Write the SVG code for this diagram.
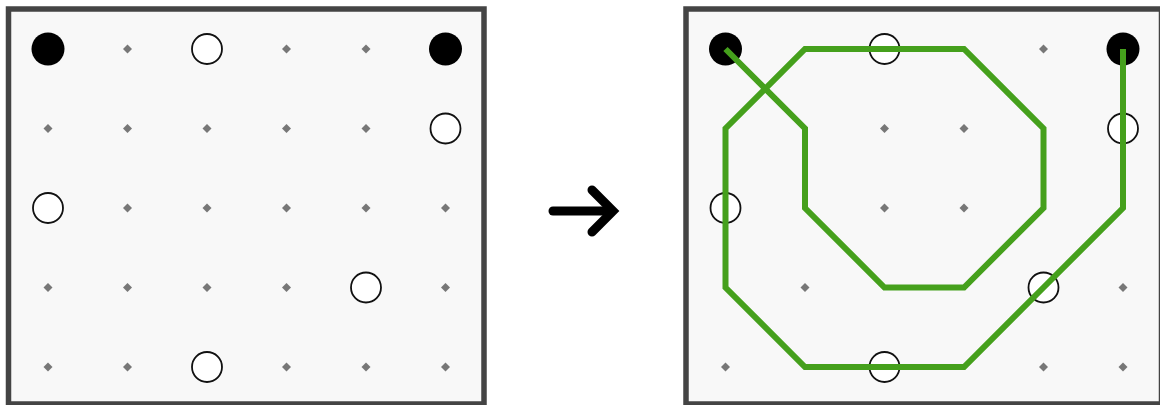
<svg xmlns="http://www.w3.org/2000/svg" width="1160" height="405" viewBox="0 0 1160 405">
<defs>
<style>
.panel{fill:#f8f8f8;stroke:#444;stroke-width:5.5}
.dot{fill:#777}
.open{fill:#fff;stroke:#111;stroke-width:1.8}
.solid{fill:#000}
.path{fill:none;stroke:#45a01c;stroke-width:6;stroke-linejoin:miter;stroke-linecap:butt}
.arrow{fill:none;stroke:#000;stroke-width:9;stroke-linecap:round;stroke-linejoin:miter}
</style>
<polygon id="d" class="dot" points="0,-4.5 4.5,0 0,4.5 -4.5,0"/>
</defs>
<g id="left-panel">
<rect class="panel" x="8.5" y="9" width="475.5" height="395"/>
<use href="#d" x="127.5" y="49"/><use href="#d" x="286.5" y="49"/><use href="#d" x="366" y="49"/>
<use href="#d" x="48" y="128.5"/><use href="#d" x="127.5" y="128.5"/><use href="#d" x="207" y="128.5"/><use href="#d" x="286.5" y="128.5"/><use href="#d" x="366" y="128.5"/>
<use href="#d" x="127.5" y="208"/><use href="#d" x="207" y="208"/><use href="#d" x="286.5" y="208"/><use href="#d" x="366" y="208"/><use href="#d" x="445.5" y="208"/>
<use href="#d" x="48" y="287.5"/><use href="#d" x="127.5" y="287.5"/><use href="#d" x="207" y="287.5"/><use href="#d" x="286.5" y="287.5"/><use href="#d" x="445.5" y="287.5"/>
<use href="#d" x="48" y="367"/><use href="#d" x="127.5" y="367"/><use href="#d" x="286.5" y="367"/><use href="#d" x="366" y="367"/><use href="#d" x="445.5" y="367"/>
<circle class="solid" cx="48" cy="49" r="16.5"/>
<circle class="solid" cx="445.5" cy="49" r="16.5"/>
<circle class="open" cx="207" cy="49" r="15"/>
<circle class="open" cx="445.5" cy="128.5" r="15"/>
<circle class="open" cx="48" cy="208" r="15"/>
<circle class="open" cx="366" cy="287.5" r="15"/>
<circle class="open" cx="207" cy="367" r="15"/>
</g>
<g id="arrow">
<line class="arrow" x1="553" y1="211" x2="611" y2="211"/>
<polyline class="arrow" points="592,190 613,211 592,232"/>
</g>
<g id="right-panel">
<rect class="panel" x="686" y="9" width="475.5" height="395"/>
<use href="#d" x="1043.5" y="49"/>
<use href="#d" x="884.5" y="128.5"/><use href="#d" x="964" y="128.5"/>
<use href="#d" x="884.5" y="208"/><use href="#d" x="964" y="208"/>
<use href="#d" x="805" y="287.5"/><use href="#d" x="1123" y="287.5"/>
<use href="#d" x="725.5" y="367"/><use href="#d" x="1043.5" y="367"/><use href="#d" x="1123" y="367"/>
<circle class="solid" cx="725.5" cy="49" r="16.5"/>
<circle class="solid" cx="1123" cy="49" r="16.5"/>
<circle class="open" cx="884.5" cy="49" r="15"/>
<circle class="open" cx="1123" cy="128.5" r="15"/>
<circle class="open" cx="725.5" cy="208" r="15"/>
<circle class="open" cx="1043.5" cy="287.5" r="15"/>
<circle class="open" cx="884.5" cy="367" r="15"/>
</g>
<g id="connectors">
<polyline class="path" points="725.5,49 805,128.5 805,208 884.5,287.5 964,287.5 1043.5,208 1043.5,128.5 964,49 884.5,49 805,49 725.5,128.5 725.5,287.5 805,367 884.5,367 964,367 1043.5,287.5 1123,208 1123,49"/>
</g>
</svg>
